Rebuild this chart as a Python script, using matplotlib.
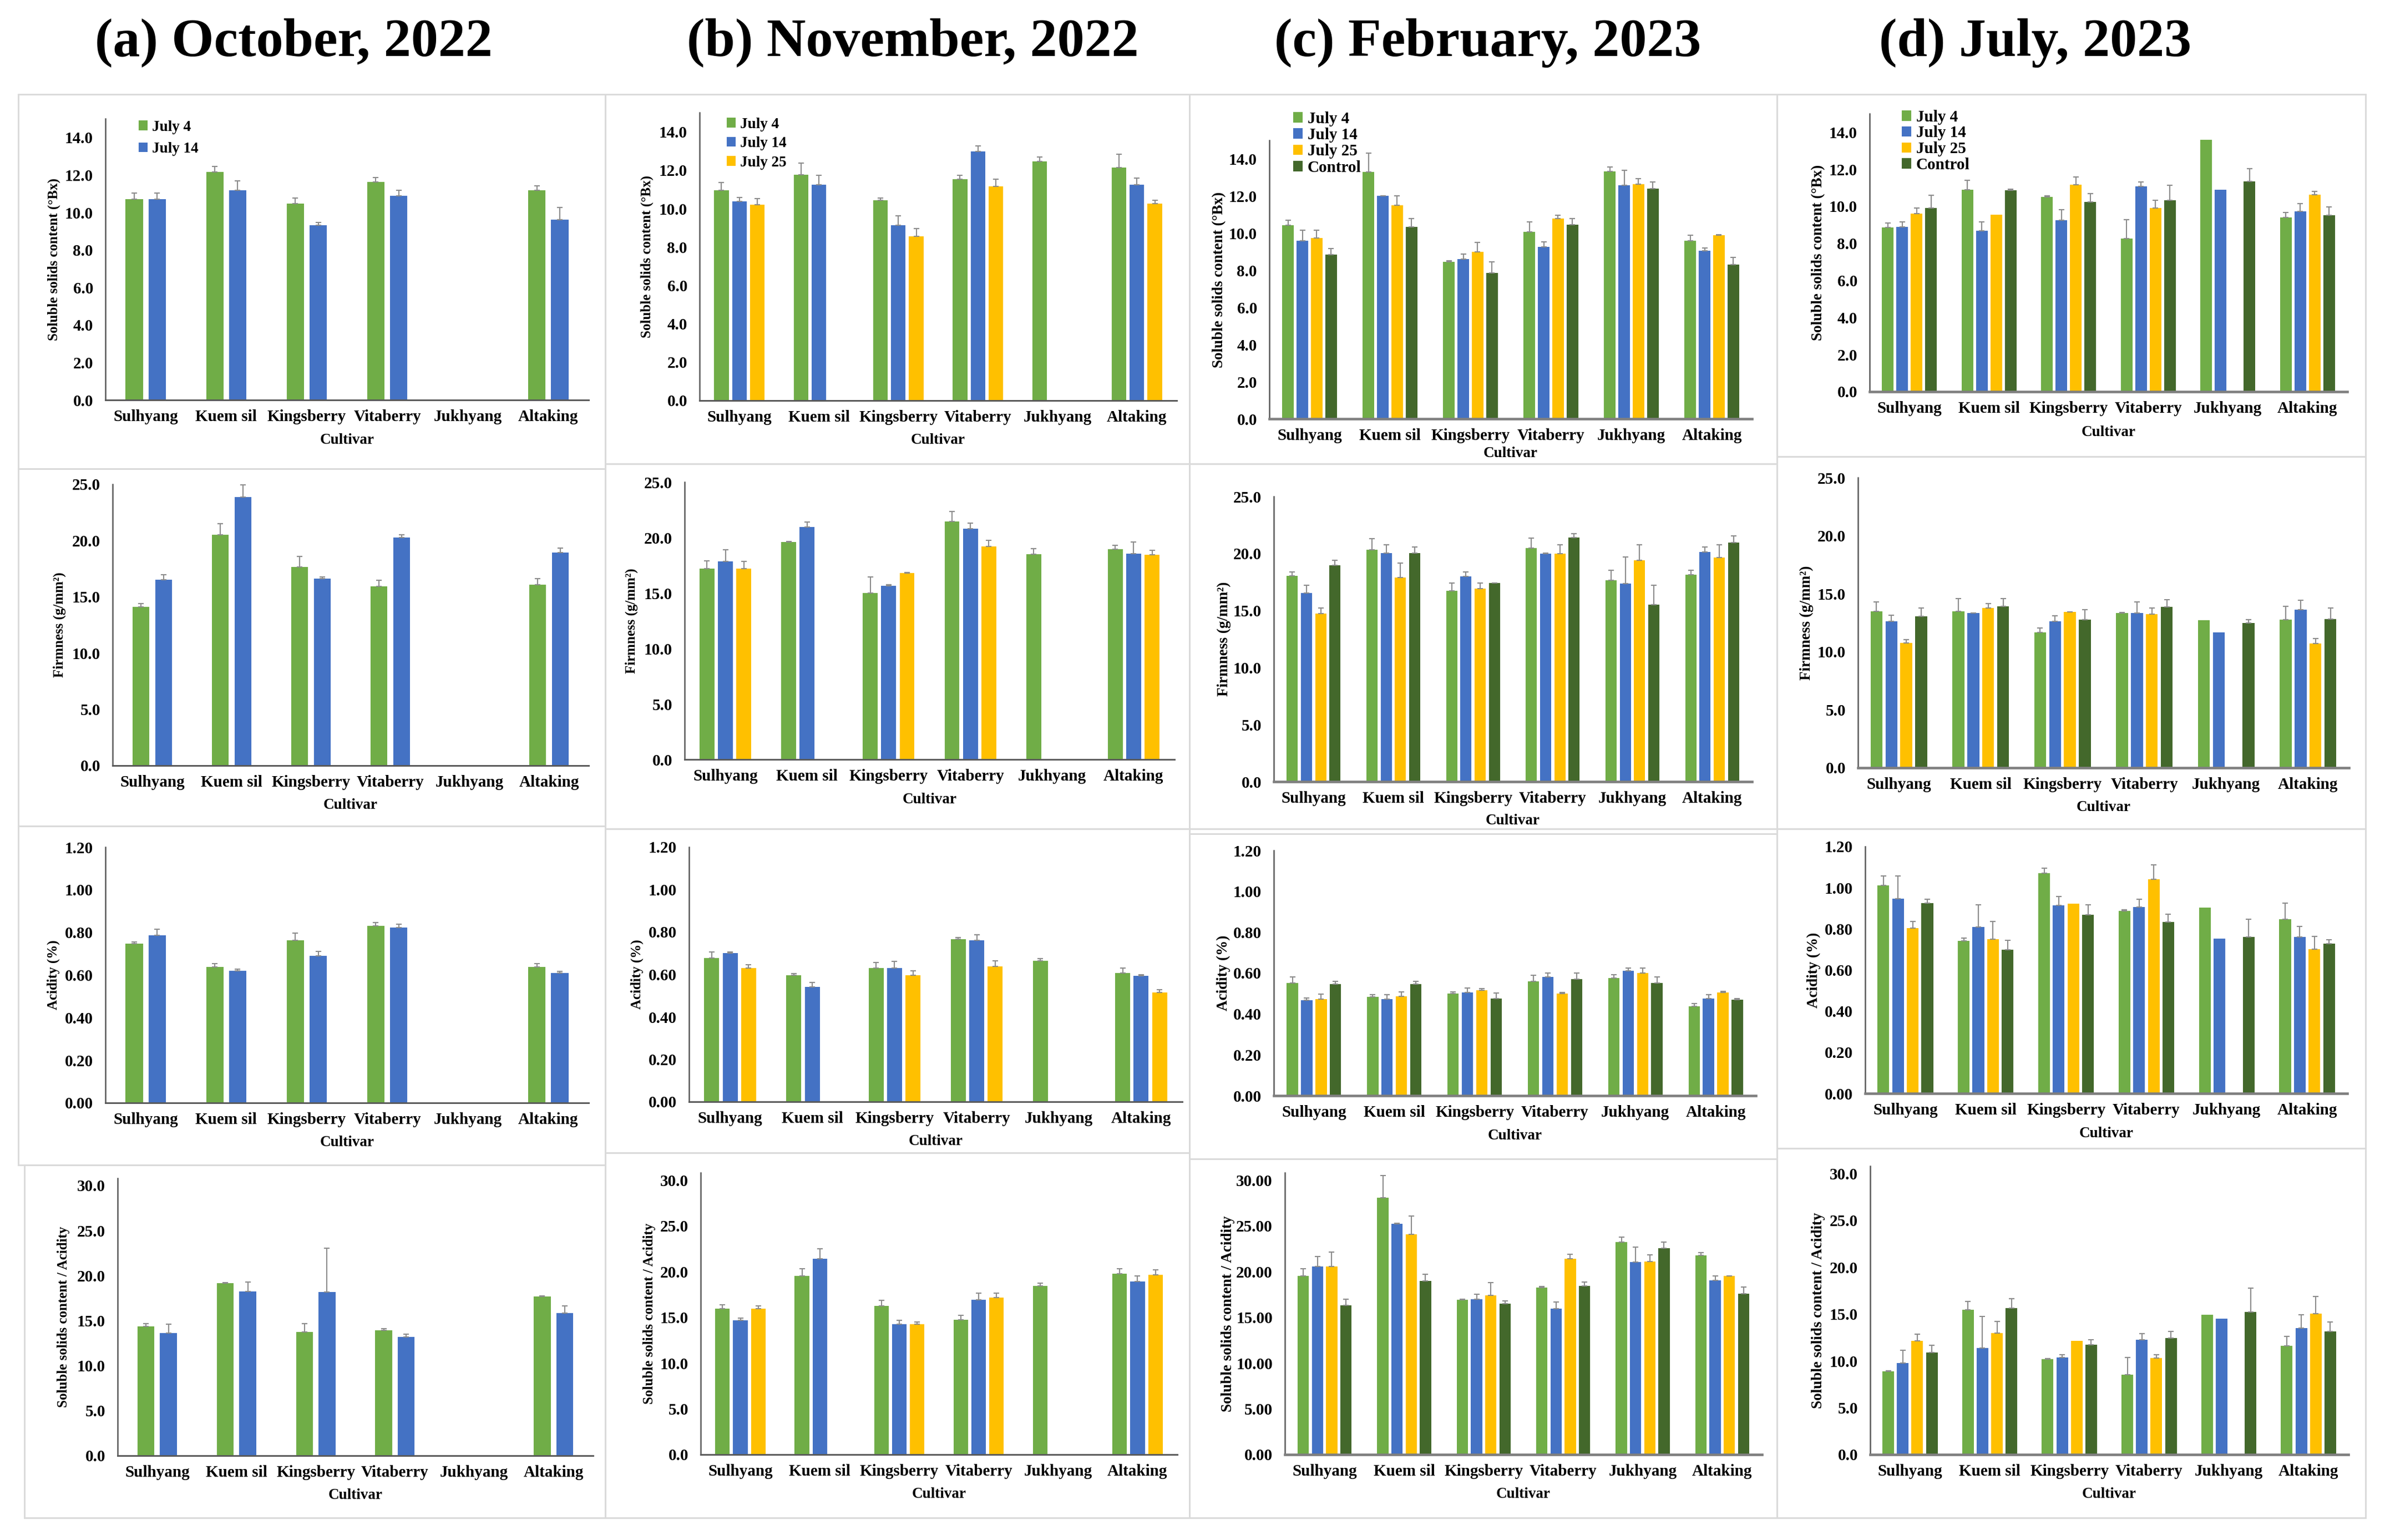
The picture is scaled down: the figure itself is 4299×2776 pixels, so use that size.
import numpy as np
import matplotlib
matplotlib.use('Agg')
import matplotlib.pyplot as plt
from matplotlib.patches import Rectangle
from matplotlib.ticker import FormatStrFormatter

plt.rcParams['font.family'] = ['Liberation Serif', 'DejaVu Serif']
plt.rcParams['font.weight'] = 'bold'

nan = np.nan
W, H = 4299, 2776  # output size in pixels

cultivars = ['Sulhyang', 'Kuem sil', 'Kingsberry', 'Vitaberry', 'Jukhyang', 'Altaking']
series = ['July 4', 'July 14', 'July 25', 'Control']
colors = ['#70AD47', '#4472C4', '#FFC000', '#43682B']
titles = ['(a) October, 2022', '(b) November, 2022', '(c) February, 2023', '(d) July, 2023']
ylabels = ['Soluble solids content (°Bx)', 'Firmness (g/mm²)', 'Acidity (%)',
           'Soluble solids content / Acidity']

# ---- (a) October 2022 : July 4, July 14
ssc_a = [[10.71, 12.17, 10.46, 11.62, nan, 11.19],
         [10.71, 11.19, 9.33, 10.89, nan, 9.61]]
ssc_a_err = [[0.33, 0.3, 0.3, 0.25, nan, 0.23],
             [0.33, 0.5, 0.15, 0.28, nan, 0.65]]
firm_a = [[14.11, 20.52, 17.67, 15.95, nan, 16.08],
          [16.5, 23.87, 16.62, 20.27, nan, 18.93]]
firm_a_err = [[0.3, 1.0, 0.92, 0.54, nan, 0.54],
              [0.46, 1.09, 0.13, 0.25, nan, 0.42]]
acid_a = [[0.747, 0.639, 0.762, 0.830, nan, 0.639],
          [0.785, 0.619, 0.691, 0.822, nan, 0.608]]
acid_a_err = [[0.008, 0.015, 0.035, 0.015, nan, 0.015],
              [0.029, 0.008, 0.019, 0.015, nan, 0.01]]
ratio_a = [[14.34, 19.14, 13.75, 13.95, nan, 17.67],
           [13.61, 18.26, 18.16, 13.17, nan, 15.81]]
ratio_a_err = [[0.34, 0.1, 0.93, 0.15, nan, 0.1],
               [0.98, 1.03, 4.85, 0.34, nan, 0.83]]

# ---- (b) November 2022 : July 4, July 14, July 25
ssc_b = [[10.96, 11.77, 10.42, 11.52, 12.45, 12.13],
         [10.37, 11.25, 9.14, 12.99, nan, 11.23],
         [10.19, nan, 8.55, 11.15, nan, 10.27]]
ssc_b_err = [[0.39, 0.61, 0.12, 0.2, 0.25, 0.69],
             [0.2, 0.47, 0.49, 0.29, nan, 0.37],
             [0.32, nan, 0.42, 0.37, nan, 0.17]]
firm_b = [[17.2, 19.58, 15.0, 21.44, 18.52, 18.94],
          [17.84, 20.97, 15.64, 20.81, nan, 18.56],
          [17.2, nan, 16.78, 19.19, nan, 18.47]]
firm_b_err = [[0.72, 0.05, 1.44, 0.89, 0.47, 0.34],
              [1.06, 0.42, 0.13, 0.51, nan, 1.02],
              [0.64, nan, 0.05, 0.55, nan, 0.38]]
acid_b = [[0.678, 0.597, 0.630, 0.766, 0.664, 0.607],
          [0.701, 0.540, 0.630, 0.762, nan, 0.593],
          [0.630, nan, 0.595, 0.639, nan, 0.515]]
acid_b_err = [[0.029, 0.008, 0.025, 0.008, 0.01, 0.023],
              [0.005, 0.021, 0.031, 0.025, nan, 0.006],
              [0.017, nan, 0.023, 0.025, nan, 0.013]]
ratio_b = [[15.97, 19.5, 16.26, 14.76, 18.43, 19.74],
           [14.66, 21.43, 14.22, 16.93, nan, 18.92],
           [15.97, nan, 14.22, 17.13, nan, 19.64]]
ratio_b_err = [[0.39, 0.82, 0.58, 0.44, 0.29, 0.58],
               [0.24, 1.06, 0.44, 0.73, nan, 0.58],
               [0.29, nan, 0.29, 0.53, nan, 0.53]]

# ---- (c) February 2023 : July 4, July 14, July 25, Control
ssc_c = [[10.44, 13.3, 8.47, 10.08, 13.33, 9.58],
         [9.6, 12.0, 8.62, 9.27, 12.58, 9.05],
         [9.73, 11.5, 9.0, 10.8, 12.65, 9.9],
         [8.85, 10.35, 7.85, 10.47, 12.39, 8.3]]
ssc_c_err = [[0.26, 1.0, 0.05, 0.52, 0.25, 0.31],
             [0.56, 0.02, 0.26, 0.26, 0.82, 0.16],
             [0.43, 0.5, 0.5, 0.17, 0.29, 0.02],
             [0.32, 0.44, 0.6, 0.32, 0.36, 0.39]]
firm_c = [[18.04, 20.32, 16.73, 20.5, 17.64, 18.15],
          [16.53, 20.06, 17.98, 20.0, 17.38, 20.16],
          [14.72, 17.88, 16.94, 20.0, 19.4, 19.66],
          [18.95, 20.06, 17.4, 21.4, 15.52, 20.97]]
firm_c_err = [[0.36, 1.0, 0.7, 0.83, 0.9, 0.4],
              [0.7, 0.7, 0.42, 0.05, 2.3, 0.4],
              [0.48, 1.27, 0.46, 0.77, 1.37, 1.1],
              [0.46, 0.5, 0.02, 0.32, 1.7, 0.6]]
acid_c = [[0.551, 0.483, 0.500, 0.560, 0.575, 0.438],
          [0.468, 0.473, 0.504, 0.580, 0.611, 0.475],
          [0.473, 0.487, 0.515, 0.500, 0.600, 0.506],
          [0.545, 0.545, 0.475, 0.570, 0.551, 0.470]]
acid_c_err = [[0.03, 0.01, 0.008, 0.03, 0.018, 0.014],
              [0.01, 0.02, 0.023, 0.02, 0.014, 0.02],
              [0.023, 0.02, 0.01, 0.005, 0.024, 0.005],
              [0.014, 0.014, 0.026, 0.03, 0.03, 0.005]]
ratio_c = [[19.5, 28.05, 16.9, 18.25, 23.25, 21.75],
           [20.55, 25.25, 17.0, 15.95, 21.05, 19.05],
           [20.55, 24.1, 17.4, 21.4, 21.1, 19.5],
           [16.3, 19.0, 16.5, 18.45, 22.55, 17.6]]
ratio_c_err = [[0.8, 2.45, 0.1, 0.1, 0.5, 0.3],
               [1.1, 0.05, 0.55, 0.7, 1.6, 0.5],
               [1.6, 2.0, 1.4, 0.5, 0.75, 0.05],
               [0.7, 0.7, 0.3, 0.4, 0.65, 0.7]]

# ---- (d) July 2023 : July 4, July 14, July 25, Control
ssc_d = [[8.87, 10.9, 10.52, 8.26, 13.58, 9.4],
         [8.9, 8.67, 9.26, 11.08, 10.9, 9.74],
         [9.6, 9.55, 11.17, 9.9, nan, 10.62],
         [9.9, 10.88, 10.23, 10.34, 11.34, 9.52]]
ssc_d_err = [[0.22, 0.5, 0.05, 1.03, 0, 0.27],
             [0.25, 0.48, 0.55, 0.23, 0, 0.42],
             [0.32, 0, 0.43, 0.42, nan, 0.2],
             [0.7, 0.04, 0.45, 0.8, 0.71, 0.44]]
firm_d = [[13.47, 13.47, 11.64, 13.33, 12.73, 12.77],
          [12.63, 13.33, 12.63, 13.33, 11.68, 13.62],
          [10.75, 13.76, 13.43, 13.23, nan, 10.73],
          [13.07, 13.92, 12.77, 13.86, 12.48, 12.83]]
firm_d_err = [[0.83, 1.13, 0.4, 0.05, 0, 1.13],
              [0.5, 0.02, 0.48, 0.97, 0, 0.8],
              [0.28, 0.4, 0.02, 0.53, nan, 0.42],
              [0.69, 0.67, 0.83, 0.6, 0.26, 0.93]]
acid_d = [[1.011, 0.742, 1.071, 0.888, 0.904, 0.846],
          [0.946, 0.808, 0.914, 0.905, 0.753, 0.761],
          [0.803, 0.749, 0.922, 1.042, nan, 0.702],
          [0.924, 0.699, 0.868, 0.832, 0.761, 0.728]]
acid_d_err = [[0.045, 0.014, 0.025, 0.005, 0, 0.079],
              [0.11, 0.11, 0.043, 0.038, 0, 0.052],
              [0.034, 0.088, 0, 0.07, nan, 0.062],
              [0.02, 0.044, 0.05, 0.038, 0.086, 0.02]]
ratio_d = [[8.88, 15.47, 10.17, 8.54, 14.91, 11.58],
           [9.8, 11.39, 10.34, 12.24, 14.5, 13.53],
           [12.12, 12.97, 12.12, 10.29, nan, 15.04],
           [10.9, 15.64, 11.75, 12.43, 15.23, 13.16]]
ratio_d_err = [[0.05, 0.9, 0.1, 1.8, 0, 1.02],
               [1.34, 3.33, 0.3, 0.68, 0, 1.39],
               [0.73, 1.22, 0, 0.36, nan, 1.82],
               [0.78, 1.02, 0.49, 0.7, 2.53, 1.02]]

values = [[ssc_a, firm_a, acid_a, ratio_a], [ssc_b, firm_b, acid_b, ratio_b],
          [ssc_c, firm_c, acid_c, ratio_c], [ssc_d, firm_d, acid_d, ratio_d]]
errors = [[ssc_a_err, firm_a_err, acid_a_err, ratio_a_err],
          [ssc_b_err, firm_b_err, acid_b_err, ratio_b_err],
          [ssc_c_err, firm_c_err, acid_c_err, ratio_c_err],
          [ssc_d_err, firm_d_err, acid_d_err, ratio_d_err]]

# axis settings per row: ylim top, tick max, tick step
row_ylim = [15, 25, 1.2, 30.8]
row_tickmax = [14, 25, 1.2, 30]
row_step = [2, 5, 0.2, 5]

# ---- layout in pixels
# panel frames (x0, y0, x1, y1)
frames = [[(33, 170, 1091, 845), (33, 845, 1091, 1489), (33, 1489, 1091, 2100), (44, 2100, 1091, 2736)],
          [(1091, 170, 2144, 836), (1091, 836, 2144, 1494), (1091, 1494, 2144, 2078), (1091, 2078, 2144, 2736)],
          [(2144, 170, 3203, 836), (2144, 836, 3203, 1494), (2144, 1503, 3203, 2089), (2144, 2089, 3203, 2736)],
          [(3203, 170, 4264, 823), (3203, 823, 4264, 1494), (3203, 1494, 4264, 2070), (3203, 2070, 4264, 2736)]]
# axes (left, right, zero line y, top y)
axrects = [[(190, 1061, 721, 214), (203, 1061, 1380, 873), (190, 1061, 1988, 1527), (212, 1069, 2624, 2124)],
           [(1261, 2121, 722, 203), (1234, 2117, 1369, 869), (1242, 2131, 1986, 1527), (1263, 2122, 2622, 2114)],
           [(2288, 3158, 755, 253), (2296, 3158, 1409, 895), (2296, 3165, 1975, 1533), (2316, 3176, 2622, 2114)],
           [(3370, 4231, 706, 205), (3349, 4234, 1384, 861), (3362, 4231, 1971, 1526), (3371, 4233, 2622, 2102)]]
ylabel_x = [[97, 107, 96, 115], [1166, 1138, 1148, 1170],
            [2198, 2206, 2205, 2213], [3278, 3256, 3269, 3278]]
xlabel_dy = [[72, 72, 72, 72], [72, 72, 72, 72], [63, 70, 73, 72], [73, 72, 72, 72]]
legend_pos = [(236, 203), (1296, 198), (2316, 186), (3413, 183)]
legend_spacing = [0.55, 0.35, 0.08, 0.06]
legend_size = [6.5, 6.5, 7, 7]
ylabel_size = [6, 6, 6.5, 6.5]
pitch = [0.284, 0.225, 0.179, 0.182]
barw = [0.214, 0.183, 0.14, 0.146]
title_x = [529, 1645, 2682, 3669]

fig = plt.figure(figsize=(W / 300, H / 300), dpi=300)

for c in range(4):
    fig.text(title_x[c] / W, 1 - 77 / H, titles[c], fontsize=23.5, fontweight='bold',
             ha='center', va='center')
    for r in range(4):
        x0, y0, x1, y1 = frames[c][r]
        fig.add_artist(Rectangle((x0 / W, 1 - y1 / H), (x1 - x0) / W, (y1 - y0) / H,
                                 transform=fig.transFigure, fill=False,
                                 ec='#DADADA', lw=0.7))
        l, rr, z, t = axrects[c][r]
        ax = fig.add_axes([l / W, 1 - z / H, (rr - l) / W, (z - t) / H])
        vals, errs = values[c][r], errors[c][r]
        n = len(vals)
        xc = np.arange(len(cultivars))
        handles = []
        for i in range(n):
            v = np.array(vals[i], float)
            e = np.array(errs[i], float)
            x = xc + (i - (n - 1) / 2) * pitch[c]
            ok = ~np.isnan(v)
            h = ax.bar(x[ok], v[ok], barw[c], color=colors[i], label=series[i], zorder=2)
            handles.append(h)
            eo = ok & (np.nan_to_num(e) > 0)
            ax.errorbar(x[eo], v[eo], yerr=[np.zeros(eo.sum()), e[eo]], fmt='none',
                        ecolor='#8C8C8C', elinewidth=0.5, capsize=1.1, capthick=0.5, zorder=3)
        ax.set_xlim(-0.5, len(cultivars) - 0.5)
        ax.set_ylim(0, row_ylim[r])
        ax.set_yticks(np.arange(0, row_tickmax[r] + row_step[r] / 2, row_step[r]))
        if r == 2 or (c == 2 and r == 3):
            ax.yaxis.set_major_formatter(FormatStrFormatter('%.2f'))
        else:
            ax.yaxis.set_major_formatter(FormatStrFormatter('%.1f'))
        ax.set_xticks(xc)
        ax.set_xticklabels(cultivars)
        ax.tick_params(axis='both', length=0, labelsize=7)
        ax.tick_params(axis='x', pad=4)
        ax.tick_params(axis='y', pad=5.3)
        for lab in ax.get_xticklabels() + ax.get_yticklabels():
            lab.set_fontweight('bold')
        for s in ['top', 'right']:
            ax.spines[s].set_visible(False)
        ax.spines['left'].set_color('#595959')
        ax.spines['left'].set_linewidth(0.6)
        ax.spines['bottom'].set_color('#7F7F7F' if c >= 2 else '#595959')
        ax.spines['bottom'].set_linewidth(1.1 if c >= 2 else 0.7)
        ax.set_facecolor('none')
        ax.set_ylabel(ylabels[r], fontsize=ylabel_size[c], fontweight='bold', va='center')
        ax.yaxis.set_label_coords((ylabel_x[c][r] - l) / (rr - l), 0.5)
        ax.set_xlabel('Cultivar', fontsize=6.5, fontweight='bold', va='center')
        ax.xaxis.set_label_coords(0.5, -xlabel_dy[c][r] / (z - t))
        if r == 0:
            lx, ly = legend_pos[c]
            ax.legend(handles=handles, loc='upper left', bbox_to_anchor=(lx / W, 1 - ly / H),
                      bbox_transform=fig.transFigure, frameon=False, borderpad=0,
                      handlelength=0.6, handleheight=0.6, handletextpad=0.3,
                      labelspacing=legend_spacing[c],
                      prop={'size': legend_size[c], 'weight': 'bold'})

fig.savefig('out.png', dpi=300)
